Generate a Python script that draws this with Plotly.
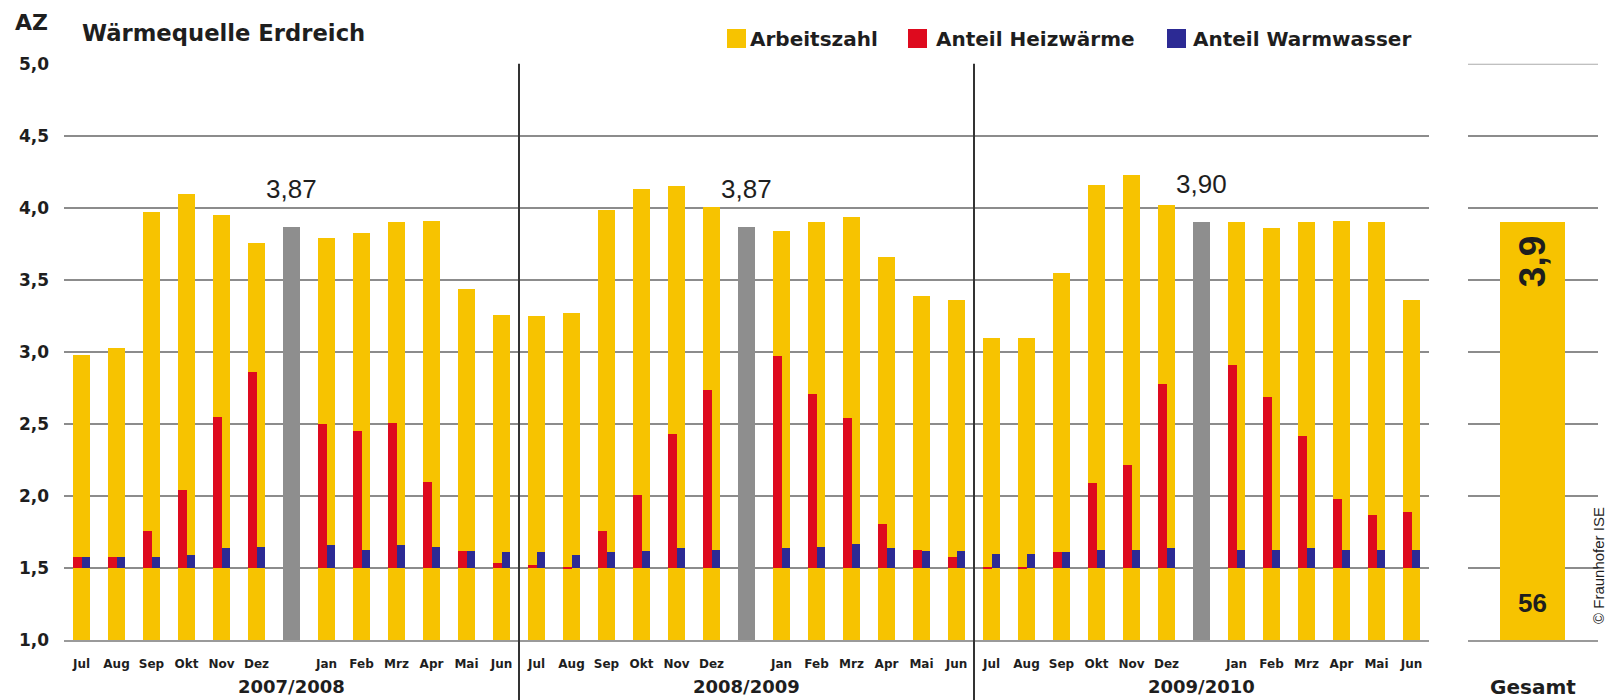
import plotly.graph_objects as go

# ---- data -------------------------------------------------------------
months = ["Jul", "Aug", "Sep", "Okt", "Nov", "Dez",
          "Jan", "Feb", "Mrz", "Apr", "Mai", "Jun"]
seasons = ["2007/2008", "2008/2009", "2009/2010"]

# monthly performance factor (Arbeitszahl)
az_0708 = [2.98, 3.03, 3.97, 4.10, 3.95, 3.76, 3.79, 3.83, 3.90, 3.91, 3.44, 3.26]
az_0809 = [3.25, 3.27, 3.99, 4.13, 4.15, 4.01, 3.84, 3.90, 3.94, 3.66, 3.39, 3.36]
az_0910 = [3.10, 3.10, 3.55, 4.16, 4.23, 4.02, 3.90, 3.86, 3.90, 3.91, 3.90, 3.36]

# share of space heating (top of red bar, drawn from 1.5 upwards)
heiz_0708 = [1.58, 1.58, 1.76, 2.04, 2.55, 2.86, 2.50, 2.45, 2.51, 2.10, 1.62, 1.54]
heiz_0809 = [1.52, 1.51, 1.76, 2.01, 2.43, 2.74, 2.97, 2.71, 2.54, 1.81, 1.63, 1.58]
heiz_0910 = [1.51, 1.51, 1.61, 2.09, 2.22, 2.78, 2.91, 2.69, 2.42, 1.98, 1.87, 1.89]

# share of domestic hot water (top of blue bar, drawn from 1.5 upwards)
ww_0708 = [1.58, 1.58, 1.58, 1.59, 1.64, 1.65, 1.66, 1.63, 1.66, 1.65, 1.62, 1.61]
ww_0809 = [1.61, 1.59, 1.61, 1.62, 1.64, 1.63, 1.64, 1.65, 1.67, 1.64, 1.62, 1.62]
ww_0910 = [1.60, 1.60, 1.61, 1.63, 1.63, 1.64, 1.63, 1.63, 1.64, 1.63, 1.63, 1.63]

season_avg = [3.87, 3.87, 3.90]      # annual performance factor per season
gesamt_az = 3.9                      # overall performance factor
gesamt_n = 56                        # number of systems

y_ticks = [1.0, 1.5, 2.0, 2.5, 3.0, 3.5, 4.0, 4.5, 5.0]

az_all = [az_0708, az_0809, az_0910]
heiz_all = [heiz_0708, heiz_0809, heiz_0910]
ww_all = [ww_0708, ww_0809, ww_0910]

# ---- styling ----------------------------------------------------------
YELLOW = "#F7C300"
RED = "#DE0A1E"
BLUE = "#2C2A94"
GREY_BAR = "#8E8E8E"
GRID = "#8C8C8C"
TXT = "#1E1E1E"
BOLD = "DejaVu Sans"
ARIAL = "Liberation Sans, Arial, sans-serif"

W, H = 1612, 700
def px_x(p):
    return p / W
def px_y(p):
    return (H - p) / H

SLOTS_PER_SEASON = 13     # 12 months + one slot for the season average
BAR_W = 0.48
SUB_W = 0.24

def slot(k, m):
    return k * SLOTS_PER_SEASON + m + (1 if m >= 6 else 0) + 0.5

mx, az_y, heiz_y, ww_y, tick_x, tick_t = [], [], [], [], [], []
for k in range(3):
    for m in range(12):
        xpos = slot(k, m)
        mx.append(xpos)
        az_y.append(az_all[k][m])
        heiz_y.append(heiz_all[k][m])
        ww_y.append(ww_all[k][m])
        tick_x.append(xpos)
        tick_t.append(months[m])
avg_x = [k * SLOTS_PER_SEASON + 6.5 for k in range(3)]

base = 1.5
fig = go.Figure()
fig.add_bar(x=mx, y=az_y, width=BAR_W, marker_color=YELLOW,
            marker_line_width=0, name="Arbeitszahl")
fig.add_bar(x=avg_x, y=season_avg, width=BAR_W, marker_color=GREY_BAR,
            marker_line_width=0, name="Jahresarbeitszahl")
fig.add_bar(x=[v - SUB_W / 2 for v in mx], y=[v - base for v in heiz_y],
            base=base, width=SUB_W, marker_color=RED, marker_line_width=0,
            name="Anteil Heizwärme")
fig.add_bar(x=[v + SUB_W / 2 for v in mx], y=[v - base for v in ww_y],
            base=base, width=SUB_W, marker_color=BLUE, marker_line_width=0,
            name="Anteil Warmwasser")
fig.add_bar(x=[0.496], y=[gesamt_az], width=0.5, marker_color=YELLOW,
            marker_line_width=0, xaxis="x2", yaxis="y2", name="Gesamt")

ydom = [px_y(640), px_y(63.7)]
fmt = lambda v: f"{v:.1f}".replace(".", ",")

fig.update_layout(
    width=W, height=H, margin=dict(l=0, r=0, t=0, b=0, pad=0),
    paper_bgcolor="white", plot_bgcolor="white",
    barmode="overlay", showlegend=False, bargap=0,
    xaxis=dict(domain=[px_x(64), px_x(1429)], range=[0, 39], automargin=False,
               tickvals=tick_x, ticktext=tick_t, showgrid=False,
               zeroline=False, showline=True, linecolor="#9a9a9a", linewidth=1.5,
               ticks="", ticklabelstandoff=12,
               tickfont=dict(family=BOLD, size=12, color=TXT, weight="bold")),
    yaxis=dict(domain=ydom, range=[1, 5], tickvals=y_ticks, automargin=False,
               ticktext=[fmt(v) for v in y_ticks], showgrid=True,
               gridcolor=GRID, gridwidth=2, zeroline=False, ticks="",
               ticklabelstandoff=14,
               tickfont=dict(family=BOLD, size=17, color=TXT, weight="bold")),
    xaxis2=dict(domain=[px_x(1468), px_x(1598)], range=[0, 1], anchor="y2",
                automargin=False, showticklabels=False, showgrid=False,
                zeroline=False, showline=True, linecolor="#9a9a9a",
                linewidth=1.5, ticks=""),
    yaxis2=dict(domain=ydom, range=[1, 5], anchor="x2", tickvals=y_ticks,
                automargin=False, showticklabels=False, showgrid=True,
                gridcolor=GRID, gridwidth=2, zeroline=False, ticks=""),
)

# top gridline of the overall panel
fig.add_shape(type="line", xref="x2 domain", yref="y2", x0=0, x1=1,
              y0=5, y1=5, line=dict(color="#ABABAB", width=2), layer="below")

# season dividers
for k in (1, 2):
    fig.add_shape(type="line", xref="x", yref="paper",
                  x0=k * SLOTS_PER_SEASON, x1=k * SLOTS_PER_SEASON,
                  y0=0, y1=ydom[1], line=dict(color="#333333", width=2))

ann = []
# season averages above the grey bars
for k in range(3):
    ann.append(dict(x=avg_x[k], y=season_avg[k], xref="x", yref="y",
                    text=f"{season_avg[k]:.2f}".replace(".", ","),
                    showarrow=False, xanchor="center", yanchor="bottom", yshift=21,
                    font=dict(family=ARIAL, size=26, color=TXT)))
    ann.append(dict(x=k * SLOTS_PER_SEASON + SLOTS_PER_SEASON / 2, y=px_y(686),
                    xref="x", yref="paper", text=seasons[k], showarrow=False,
                    xanchor="center", yanchor="middle",
                    font=dict(family=BOLD, size=18, color=TXT, weight="bold")))

# overall column
ann.append(dict(x=0.496, y=gesamt_az, xref="x2", yref="y2", text=fmt(gesamt_az),
                showarrow=False, textangle=-90, xanchor="center", yanchor="top",
                yshift=-12,
                font=dict(family=ARIAL, size=37, color=TXT, weight="bold")))
ann.append(dict(x=0.496, y=px_y(603), xref="x2", yref="paper", text=str(gesamt_n),
                showarrow=False, xanchor="center", yanchor="middle",
                font=dict(family=ARIAL, size=26, color=TXT, weight="bold")))
ann.append(dict(x=px_x(1533), y=px_y(687), xref="paper", yref="paper",
                text="Gesamt", showarrow=False, xanchor="center", yanchor="middle",
                font=dict(family=BOLD, size=20, color=TXT, weight="bold")))
ann.append(dict(x=px_x(1598), y=px_y(566), xref="paper", yref="paper",
                text="© Fraunhofer ISE", showarrow=False, textangle=-90,
                xanchor="center", yanchor="middle",
                font=dict(family=ARIAL, size=15, color=TXT)))

# header texts
ann.append(dict(x=px_x(13), y=px_y(23), xref="paper", yref="paper", text="AZ",
                showarrow=False, xanchor="left", yanchor="middle",
                font=dict(family=BOLD, size=22, color=TXT, weight="bold")))
ann.append(dict(x=px_x(80), y=px_y(33), xref="paper", yref="paper",
                text="Wärmequelle Erdreich", showarrow=False, xanchor="left",
                yanchor="middle",
                font=dict(family=BOLD, size=22.7, color=TXT, weight="bold")))

# legend
legend_items = [("Arbeitszahl", YELLOW, 727, 748),
                ("Anteil Heizwärme", RED, 908, 934),
                ("Anteil Warmwasser", BLUE, 1167, 1191)]
for label, col, sx, tx in legend_items:
    fig.add_shape(type="rect", xref="paper", yref="paper",
                  x0=px_x(sx), x1=px_x(sx + 19), y0=px_y(48), y1=px_y(29),
                  fillcolor=col, line_width=0)
    ann.append(dict(x=px_x(tx), y=px_y(39), xref="paper", yref="paper",
                    text=label, showarrow=False, xanchor="left", yanchor="middle",
                    font=dict(family=BOLD, size=20, color=TXT, weight="bold")))

fig.update_layout(annotations=ann)
fig.write_html("out.html")
